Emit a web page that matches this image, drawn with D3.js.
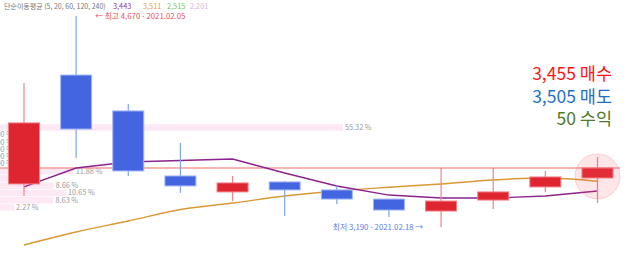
<!DOCTYPE html>
<html>
<head>
<meta charset="utf-8">
<script src="https://cdn.jsdelivr.net/npm/d3@7"></script>
<style>
  html, body { margin: 0; padding: 0; background: #fff; }
  svg { display: block; font-family: "Noto Sans CJK KR", "Noto Sans", sans-serif; }
</style>
</head>
<body>
<script>
// daily candles (price in won)
const dates  = ["2021.02.04", "2021.02.05", "2021.02.08", "2021.02.09", "2021.02.10", "2021.02.15",
                "2021.02.16", "2021.02.17", "2021.02.18", "2021.02.19", "2021.02.22", "2021.02.23"];
const opens  = [3492, 4256, 4004, 3548, 3436, 3506, 3450, 3386, 3302, 3379, 3471, 3534];
const highs  = [4200, 4670, 4053, 3779, 3548, 3513, 3478, 3386, 3604, 3604, 3583, 3681];
const lows   = [3407, 3674, 3548, 3429, 3372, 3267, 3351, 3260, 3190, 3316, 3436, 3358];
const closes = [3920, 3877, 3583, 3478, 3499, 3450, 3386, 3309, 3372, 3436, 3541, 3604];

// moving averages
const ma5  = [3471, 3604, 3646, 3656, 3667, 3569, 3478, 3414, 3393, 3393, 3407, 3443];
const ma20 = [3064, 3155, 3232, 3313, 3358, 3407, 3443, 3469, 3492, 3520, 3534, 3511];
const maPeriods = [5, 20, 60, 120, 240];
const maLast = ["3,443", "3,511", "2,515", "2,201"];

// volume profile (price level -> share %)
const profilePrices = [3888, 3837, 3786, 3735, 3684, 3633, 3582, 3531, 3480, 3429, 3378, 3327];
const profilePct    = [55.32, 0, 0, 0, 0, 0, 11.88, 2.59, 8.66, 10.65, 8.63, 2.27];

const highText = "← 최고 4,670 - 2021.02.05";
const lowText  = "최저 3,190 - 2021.02.18 →";
const currentPrice = 3604;
const markerPrice = 3545;
const buyPrice = "3,455", sellPrice = "3,505", profit = "50";

const width = 627, height = 255;

const svg = d3.select("body").append("svg")
    .attr("width", width)
    .attr("height", height);

const x = d3.scalePoint().domain(dates).range([24, 597.5]);
const y = d3.scaleLinear().domain([3190, 4670]).range([227, 16]);
const xp = d3.scaleLinear().domain([0, 100]).range([0, 620]);
const bodyW = 31;

// volume profile
svg.append("g").selectAll("rect")
    .data(profilePct)
    .join("rect")
    .attr("x", 0)
    .attr("y", (d, i) => y(profilePrices[i]) - 3.3)
    .attr("width", d => xp(d))
    .attr("height", 6.6)
    .attr("fill", "#fde9f4");

// empty levels: label mostly hidden behind the first candle, as in the source
svg.append("g").selectAll("text")
    .data(profilePct)
    .join("text")
    .attr("x", d => d > 0 ? xp(d) + 2 : 13)
    .attr("y", (d, i) => y(profilePrices[i]))
    .attr("dy", "0.35em")
    .attr("text-anchor", d => d > 0 ? "start" : "end")
    .attr("font-size", 7.3)
    .attr("fill", "#9a9a9a")
    .text(d => d.toFixed(2) + " %");

// current price line
svg.append("line")
    .attr("x1", 0).attr("x2", 620)
    .attr("y1", y(currentPrice)).attr("y2", y(currentPrice))
    .attr("stroke", "#f29b9b")
    .attr("stroke-width", 1.5);

// moving average lines
const idx = d3.range(dates.length);
svg.append("path")
    .datum(idx)
    .attr("fill", "none")
    .attr("stroke", "#d99a34")
    .attr("stroke-width", 1.4)
    .attr("d", d3.line().x(i => x(dates[i])).y(i => y(ma20[i])).curve(d3.curveMonotoneX));

svg.append("path")
    .datum(idx)
    .attr("fill", "none")
    .attr("stroke", "#8c228c")
    .attr("stroke-width", 1.4)
    .attr("d", d3.line().x(i => x(dates[i])).y(i => y(ma5[i])));

// candles
const up = i => closes[i] >= opens[i];
const candles = svg.append("g").selectAll("g")
    .data(idx)
    .join("g");

candles.append("line")
    .attr("x1", i => x(dates[i])).attr("x2", i => x(dates[i]))
    .attr("y1", i => y(highs[i])).attr("y2", i => y(lows[i]))
    .attr("stroke", i => up(i) ? "#f08389" : "#7aa6f3")
    .attr("stroke-width", 1.2);

candles.append("rect")
    .attr("x", i => x(dates[i]) - bodyW / 2)
    .attr("y", i => y(Math.max(opens[i], closes[i])))
    .attr("width", bodyW)
    .attr("height", i => Math.max(1, y(Math.min(opens[i], closes[i])) - y(Math.max(opens[i], closes[i]))))
    .attr("fill", i => up(i) ? "#de2530" : "#4366e0")
    .attr("stroke", i => up(i) ? "#f27f86" : "#a3b6f3")
    .attr("stroke-width", 1);

// last candle marker
svg.append("circle")
    .attr("cx", x(dates[dates.length - 1]))
    .attr("cy", y(markerPrice))
    .attr("r", 22.5)
    .attr("fill", "rgba(250, 90, 100, 0.15)")
    .attr("stroke", "rgba(240, 120, 130, 0.3)");

// header
const header = svg.append("g").attr("font-size", 7);
header.append("text")
    .attr("x", 4).attr("y", 9)
    .attr("fill", "#777")
    .text(`단순이동평균 (${maPeriods.join(", ")})`);
const maColors = ["#9b2f9b", "#e3a43f", "#7cc644", "#d9b5e3"];
const maX = [113, 143, 167, 190];
maLast.forEach((v, i) => {
    header.append("text").attr("x", maX[i]).attr("y", 9).attr("fill", maColors[i])
        .attr("font-size", 7.3).text(v);
});

// high / low notes
svg.append("text")
    .attr("x", x(dates[1]) + 19).attr("y", y(4670) + 2.7)
    .attr("font-size", 7.8)
    .attr("fill", "#e8505c")
    .text(highText);

svg.append("text")
    .attr("x", x(dates[8]) - 18).attr("y", y(3190) + 2.7)
    .attr("text-anchor", "end")
    .attr("font-size", 7.8)
    .attr("fill", "#5a80e6")
    .text(lowText);

// trade summary
const summary = [
    { t: `${buyPrice} 매수`, c: "#ff1414", y: 80 },
    { t: `${sellPrice} 매도`, c: "#1f6fc6", y: 103 },
    { t: `${profit} 수익`, c: "#4f7a2c", y: 125 }
];
svg.append("g").selectAll("text")
    .data(summary)
    .join("text")
    .attr("x", 612)
    .attr("y", d => d.y)
    .attr("text-anchor", "end")
    .attr("font-size", 17.5)
    .attr("fill", d => d.c)
    .text(d => d.t);
</script>
</body>
</html>
